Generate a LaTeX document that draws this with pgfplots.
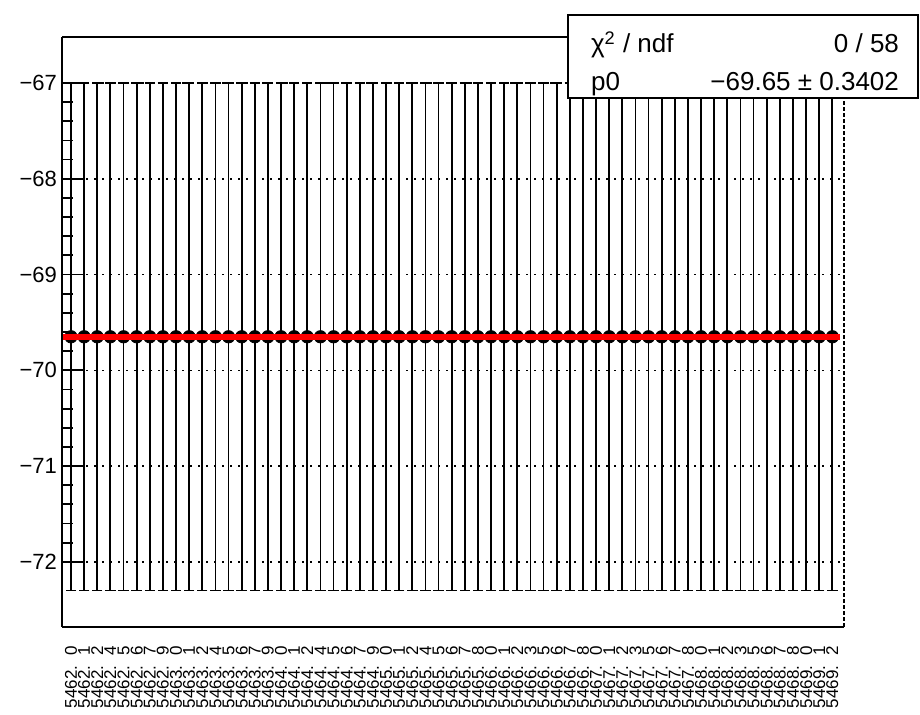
\documentclass[border=0pt]{standalone}
\usepackage{fontspec}
\setmainfont{Liberation Sans}
\usepackage{pgfplots}
\usepackage{pgfplotstable}
\pgfplotsset{compat=1.18}
\pgfplotstableread{
x y e
5462.000 -69.65 2.65
5462.124 -69.65 2.65
5462.248 -69.65 2.65
5462.372 -69.65 2.65
5462.497 -69.65 2.65
5462.621 -69.65 2.65
5462.745 -69.65 2.65
5462.869 -69.65 2.65
5462.993 -69.65 2.65
5463.117 -69.65 2.65
5463.241 -69.65 2.65
5463.366 -69.65 2.65
5463.490 -69.65 2.65
5463.614 -69.65 2.65
5463.738 -69.65 2.65
5463.862 -69.65 2.65
5463.986 -69.65 2.65
5464.110 -69.65 2.65
5464.234 -69.65 2.65
5464.359 -69.65 2.65
5464.483 -69.65 2.65
5464.607 -69.65 2.65
5464.731 -69.65 2.65
5464.855 -69.65 2.65
5464.979 -69.65 2.65
5465.103 -69.65 2.65
5465.228 -69.65 2.65
5465.352 -69.65 2.65
5465.476 -69.65 2.65
5465.600 -69.65 2.65
5465.724 -69.65 2.65
5465.848 -69.65 2.65
5465.972 -69.65 2.65
5466.097 -69.65 2.65
5466.221 -69.65 2.65
5466.345 -69.65 2.65
5466.469 -69.65 2.65
5466.593 -69.65 2.65
5466.717 -69.65 2.65
5466.841 -69.65 2.65
5466.966 -69.65 2.65
5467.090 -69.65 2.65
5467.214 -69.65 2.65
5467.338 -69.65 2.65
5467.462 -69.65 2.65
5467.586 -69.65 2.65
5467.710 -69.65 2.65
5467.834 -69.65 2.65
5467.959 -69.65 2.65
5468.083 -69.65 2.65
5468.207 -69.65 2.65
5468.331 -69.65 2.65
5468.455 -69.65 2.65
5468.579 -69.65 2.65
5468.703 -69.65 2.65
5468.828 -69.65 2.65
5468.952 -69.65 2.65
5469.076 -69.65 2.65
5469.200 -69.65 2.65
}\datatable
\begin{document}
\begin{tikzpicture}
\path (0,0) rectangle (460pt,357.5pt);
\begin{axis}[
  at={(31pt,44pt)}, anchor=south west,
  scale only axis, width=391pt, height=295pt,
  xmin=5461.915, xmax=5469.31,
  ymin=-72.68, ymax=-66.52,
  axis lines*=left,
  axis line style={-, line width=1pt},
  tick align=inside,
  ytick={-72,-71,-70,-69,-68,-67},
  yticklabels={−72,−71,−70,−69,−68,−67},
  minor y tick num=4,
  ytick pos=left,
  major tick length=11pt, minor tick length=5.5pt,
  every tick/.style={black, line width=0.9pt},
  ymajorgrids,
  grid style={black, line width=0.8pt, dash pattern=on 1pt off 3pt},
  yticklabel style={font=\fontsize{11}{13}\selectfont, xshift=1pt},
  xtick=data,
  xtick style={draw=none},
  /pgf/number format/assume math mode=true,
  xticklabel={\pgfmathprintnumber[fixed, fixed zerofill, precision=1, 1000 sep={}, dec sep={.\hspace{0.6em}}]{\tick}},
  xticklabel style={rotate=90, anchor=east, font=\fontsize{8.5}{9}\selectfont},
  xticklabel shift=6pt,
  clip=false,
  clip marker paths=true,
]
\addplot[black, mark=*, mark size=3.1pt, only marks,
  error bars/.cd, y dir=both, y explicit,
  error mark=|,
  error bar style={line width=0.9pt, black},
  error mark options={line width=0.9pt, mark size=2.6pt, black}]
  table[x=x, y=y, y error=e] {\datatable};
\addplot[red, line width=3pt, no marks] coordinates {(5461.924,-69.65) (5469.276,-69.65)};
\draw[line width=1pt] (rel axis cs:0,1) -- (rel axis cs:1,1);
\draw[line width=0.8pt, dash pattern=on 2pt off 1pt] (rel axis cs:1,0) -- (rel axis cs:1,1);
\end{axis}
\node[overlay, anchor=base, font=\fontsize{16}{18}\bfseries] at (167pt,362pt) {p};
\draw[fill=white, line width=1pt] (284pt,308.5pt) rectangle (459pt,350pt);
\node[anchor=base west, font=\fontsize{13}{15}\selectfont] at (292pt,331pt) {χ\textsuperscript{2} / ndf};
\node[anchor=base east, font=\fontsize{13}{15}\selectfont] at (453pt,331pt) {0 / 58};
\node[anchor=base west, font=\fontsize{13}{15}\selectfont] at (292pt,312pt) {p0};
\node[anchor=base east, font=\fontsize{13}{15}\selectfont] at (453pt,312pt) {−69.65 ± 0.3402};
\end{tikzpicture}
\end{document}
